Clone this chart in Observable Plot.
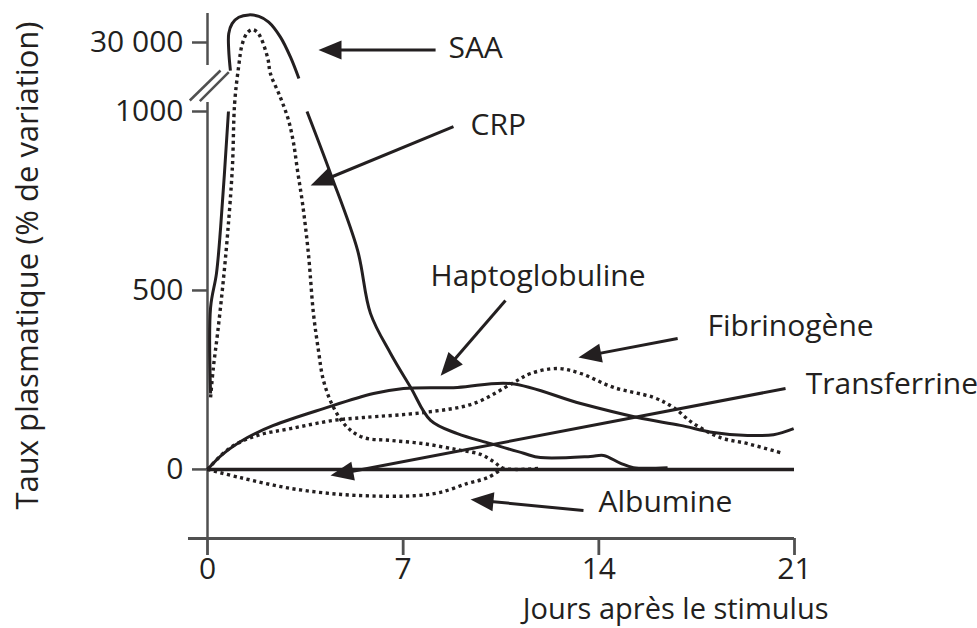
<!DOCTYPE html>
<html>
<head>
<meta charset="utf-8">
<script src="https://cdn.jsdelivr.net/npm/d3@7"></script>
<script src="https://cdn.jsdelivr.net/npm/@observablehq/plot@0.6"></script>
<style>
  html, body { margin: 0; padding: 0; background: #ffffff; }
  svg { display: block; }
</style>
</head>
<body>
<div id="chart"></div>
<script>
// ---------- DATA (days after stimulus, % variation) ----------
const saaRiseDay = [0.11, 0.11, 0.32, 0.47, 0.75];
const saaRiseVal = [212, 452, 547, 676, 1000];

const saaPeakDay = [0.82, 0.76, 0.76, 0.88, 1.12, 1.48, 1.84, 2.19, 2.61, 2.97, 3.27];
const saaPeakVal = [20600, 27300, 33000, 36300, 38400, 39200, 38700, 36800, 31800, 25100, 18000];

const saaFallDay = [3.56, 4.40, 5.37, 5.83, 6.55, 7.27, 7.98, 8.94, 10.13, 11.31, 11.91, 13.70, 14.17, 14.78, 15.24, 16.46];
const saaFallVal = [1000, 827, 612, 436, 324, 229, 137, 100, 72, 45, 33, 36, 39, 17, 5, 5];

const crpDay = [0.11, 0.21, 0.36, 0.54, 0.72, 0.89, 0.97, 1.11, 1.25, 1.43, 1.61, 1.82, 2.15, 2.25, 2.61, 2.90, 3.08, 3.22, 3.40, 3.61, 3.79, 3.97, 4.15, 4.51, 5.01, 5.58, 6.55, 7.73, 8.94, 9.77, 10.23, 10.60, 11.90];
const crpVal = [201, 285, 380, 508, 659, 844, 5120, 21700, 29700, 33300, 34300, 33000, 25000, 19700, 8200, 975, 911, 835, 743, 603, 436, 332, 248, 173, 117, 89, 81, 72, 55, 42, 22, 3, 3];

const haptoDay = [0, 0.57, 1.43, 2.36, 4.15, 5.94, 7.01, 8.94, 10.84, 13.35, 15.38, 16.92, 18.10, 19.32, 20.25, 20.97];
const haptoVal = [0, 44, 89, 123, 170, 212, 226, 229, 240, 184, 145, 123, 103, 95, 97, 114];

const fibDay = [0, 0.82, 1.79, 2.97, 4.51, 5.58, 7.73, 9.52, 10.96, 11.56, 12.52, 13.35, 14.53, 15.96, 16.67, 17.39, 18.35, 19.32, 20.50];
const fibVal = [0, 61, 95, 114, 137, 145, 159, 184, 243, 268, 282, 268, 229, 201, 173, 128, 89, 72, 47];

const albDay = [0, 1.18, 2.97, 4.80, 6.50, 7.51, 8.34, 9.30, 10.02, 10.59];
const albVal = [0, -23, -53, -70, -75, -73, -64, -39, -23, 5];

// annotation labels
const labelNames = ["SAA", "CRP", "Haptoglobuline", "Fibrinogène", "Transferrine", "Albumine"];
const labelDay = [8.62, 9.41, 7.98, 17.89, 21.40, 13.99];
const labelVal = [28000, 961, 539, 399, 237, -92];

// annotation arrows (tail -> tip)
const arrowFromDay = [8.16, 8.80, 10.66, 16.82, 20.68, 13.45];
const arrowFromVal = [27500, 958, 472, 366, 226, -115];
const arrowToDay = [3.97, 3.69, 8.34, 13.27, 4.40, 9.41];
const arrowToVal = [27500, 793, 262, 313, -17, -84];

// axes
const xTicks = [0, 7, 14, 21];
const xTickLabels = ["0", "7", "14", "21"];
const yTicks = [0, 500, 1000, 30000];
const yTickLabels = ["0", "500", "1000", "30 000"];
const xTitle = "Jours après le stimulus";
const yTitle = "Taux plasmatique (% de variation)";

// broken y axis: visible segments and break marks
const yAxisSegLow = [-193, 5635];
const yAxisSegHigh = [22333, 39667];
const breakMarks = [
  {x1: -0.633, y1: 6665, x2: 0.465, y2: 20667},
  {x1: -0.275, y1: 6305, x2: 0.762, y2: 20100}
];
const xAxisSpan = [-0.68, 21];

// ---------- BUILD ----------
const ink = "#231f20";
const axisGray = "#505050";
const font = "'Open Sans', 'Noto Sans', sans-serif";
const fs = 30;

const X = {type: "linear", domain: [0, 21], range: [207, 794]};
const Y = {type: "linear", domain: [-193, 1000, 18000, 40000], range: [538, 111, 78, 12]};
const sx = Plot.scale({x: X});
const sy = Plot.scale({y: Y});

const rows = (ds, vs) => ds.map((d, i) => ({day: d, val: vs[i]}));

const labels = labelNames.map((n, i) => ({name: n, day: labelDay[i], val: labelVal[i]}));

const arrows = arrowFromDay.map((d, i) => {
  const x1 = d, y1 = arrowFromVal[i], x2 = arrowToDay[i], y2 = arrowToVal[i];
  const px1 = sx.apply(x1), py1 = sy.apply(y1), px2 = sx.apply(x2), py2 = sy.apply(y2);
  const len = Math.hypot(px2 - px1, py2 - py1);
  const ang = Math.atan2(py2 - py1, px2 - px1) * 180 / Math.PI;
  const f = Math.max(0, (len - 12) / len);
  return {x1, y1, x2, y2, xe: x1 + (x2 - x1) * f, ye: y1 + (y2 - y1) * f, rot: ang + 90};
});

const headSymbol = {
  draw(ctx) {
    ctx.moveTo(0, 0);
    ctx.lineTo(-9.5, 23);
    ctx.lineTo(9.5, 23);
    ctx.closePath();
  }
};

const solid = {x: "day", y: "val", curve: "catmull-rom", stroke: ink, strokeWidth: 3, strokeLinecap: "butt"};
const dotted = {x: "day", y: "val", curve: "catmull-rom", stroke: ink, strokeWidth: 3.4, strokeDasharray: "3.2 3.5", strokeLinecap: "butt"};

const plot = Plot.plot({
  width: 977,
  height: 628,
  marginLeft: 207,
  marginRight: 183,
  marginTop: 12,
  marginBottom: 90,
  x: X,
  y: Y,
  style: {fontFamily: font, color: ink, background: "#ffffff"},
  marks: [
    // axis lines
    Plot.ruleX([0], {y1: yAxisSegLow[0], y2: yAxisSegLow[1], stroke: axisGray, strokeWidth: 2.5}),
    Plot.ruleX([0], {y1: yAxisSegHigh[0], y2: yAxisSegHigh[1], stroke: axisGray, strokeWidth: 2.5}),
    Plot.link(breakMarks, {x1: "x1", y1: "y1", x2: "x2", y2: "y2", stroke: axisGray, strokeWidth: 2.5}),
    Plot.ruleY([-193], {x1: xAxisSpan[0], x2: xAxisSpan[1], stroke: axisGray, strokeWidth: 2.8}),
    Plot.axisY({ticks: yTicks, tickFormat: d => yTickLabels[yTicks.indexOf(d)], tickSize: 15, tickPadding: 9,
      fontSize: fs, stroke: axisGray, fill: ink, strokeWidth: 2.5, label: null}),
    Plot.axisX({ticks: xTicks, tickFormat: d => xTickLabels[xTicks.indexOf(d)], tickSize: 17, tickPadding: 2,
      fontSize: fs, stroke: axisGray, fill: ink, strokeWidth: 2.8, label: null}),
    // baseline
    Plot.ruleY([0], {x1: 0, x2: 21, stroke: ink, strokeWidth: 3.5}),
    // curves
    Plot.line(rows(saaRiseDay, saaRiseVal), solid),
    Plot.line(rows(saaPeakDay, saaPeakVal), solid),
    Plot.line(rows(saaFallDay, saaFallVal), solid),
    Plot.line(rows(crpDay, crpVal), dotted),
    Plot.line(rows(haptoDay, haptoVal), solid),
    Plot.line(rows(fibDay, fibVal), dotted),
    Plot.line(rows(albDay, albVal), dotted),
    // annotation arrows
    Plot.link(arrows, {x1: "x1", y1: "y1", x2: "xe", y2: "ye", stroke: ink, strokeWidth: 3}),
    Plot.dot(arrows, {x: "x2", y: "y2", symbol: headSymbol, rotate: "rot", fill: ink, stroke: "none", r: 10}),
    // labels
    Plot.text(labels, {x: "day", y: "val", text: "name", textAnchor: "start", lineAnchor: "middle", fontSize: fs, fill: ink}),
    Plot.text([yTitle], {text: d => d, frameAnchor: "left", dx: -179, dy: -10, rotate: -90, textAnchor: "middle", lineAnchor: "middle", fontSize: 31, fill: ink}),
    Plot.text([xTitle], {text: d => d, frameAnchor: "bottom-right", dx: 34, dy: 71.5, textAnchor: "end", lineAnchor: "middle", fontSize: 29, fill: ink})
  ]
});
document.getElementById("chart").appendChild(plot);
</script>
</body>
</html>
